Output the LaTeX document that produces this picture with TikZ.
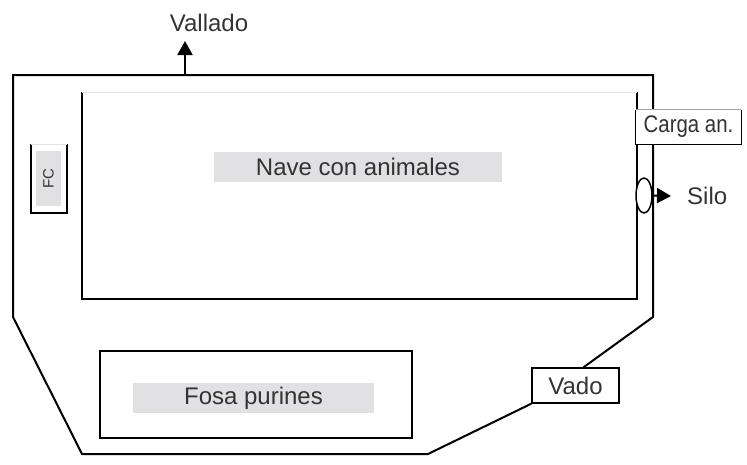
\documentclass[tikz,border=0pt]{standalone}
\usepackage{fontspec}
\setmainfont{Liberation Sans}
\usepackage{graphicx}
\usetikzlibrary{arrows.meta,shapes.geometric}
\definecolor{txt}{HTML}{333333}
\definecolor{lbl}{HTML}{E1E1E3}
\definecolor{faintedge}{HTML}{E4E4E4}
\begin{document}
\begin{tikzpicture}[x=1pt,y=-1pt,font=\fontsize{24}{29}\selectfont]
\tikzset{
 fence/.style={line width=2pt,black,line join=miter},
 wall/.style={line width=1.5pt,black},
 faint/.style={line width=1pt,color=faintedge},
 graylabel/.style={fill=lbl,text=txt,inner sep=0pt,minimum height=30pt},
 plain/.style={text=txt,inner sep=0pt},
 tagbox/.style={draw=black,line width=1.4pt,fill=white,text=txt,inner sep=0pt},
 arr/.style={-{Triangle[length=14pt,width=15pt]},line width=2pt}
}
\useasboundingbox (0,0) rectangle (747,464);
% gate box
\node[tagbox,minimum width=87pt,minimum height=35pt] (vado) at (575.5,385.5) {Vado};
% fence
\draw[fence] ([xshift=8pt]vado.north) -- (653,317) -- (653,75) -- (13,75) -- (13,317) -- (82,454) -- (428,454) -- (vado.south west);
% barn
\draw[wall] (82,92) -- (82,299) -- (637,299) -- (637,92);
\draw[faint] (82,92) -- (637,92);
\node[graylabel,minimum width=288pt] (nave) at (358,167) {Nave con animales};
% FC
\draw[wall] (31,144) -- (31,213) -- (67,213) -- (67,144);
\draw[faint] (31,144) -- (67,144);
\node[graylabel,rotate=90,minimum width=55pt,minimum height=25pt,font=\fontsize{15}{18}\selectfont] (fc) at (48.5,178.5) {FC};
% slurry pit
\draw[wall] (100,351) rectangle (412,438);
\node[graylabel,minimum width=241pt] (fosa) at (253.5,398) {Fosa purines};
% loading
\node[fill=white,inner sep=0pt,minimum width=105pt,minimum height=34pt] (carga) at (688.5,127) {};
\draw[line width=1.3pt] (carga.north west) -- (carga.south west) -- (carga.south east) -- (carga.north east);
\draw[line width=1pt,color=gray!70] (carga.north west) -- (carga.north east);
\node[plain] (cargatxt) at (carga.center) {\scalebox{0.85}[1]{Carga an.}};
% silo
\node[draw,ellipse,line width=1.5pt,fill=white,minimum width=16pt,minimum height=35pt,inner sep=0pt] (silobin) at (644,195.5) {};
\node[plain,anchor=west] (silo) at (687,196) {Silo};
\draw[arr] (silobin.east) -- ([xshift=-16pt]silo.west);
% vallado
\node[plain] (vallado) at (209,23) {Vallado};
\coordinate (vbase) at (185,75);
\coordinate (vtip) at (185,41);
\draw[arr] (vbase) -- (vtip);
\end{tikzpicture}
\end{document}
